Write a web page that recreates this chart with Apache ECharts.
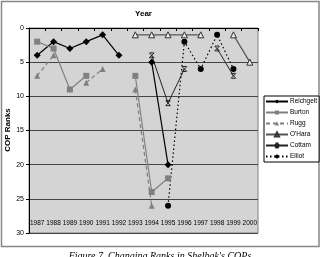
<!DOCTYPE html>
<html>
<head>
<meta charset="utf-8">
<script src="https://cdn.jsdelivr.net/npm/echarts@6/dist/echarts.min.js"></script>
<style>
  html, body { margin: 0; padding: 0; background: #fff; }
  #chart { width: 321px; height: 257px; }
</style>
</head>
<body>
<div id="chart"></div>
<script>
const years = ['1987', '1988', '1989', '1990', '1991', '1992', '1993', '1994', '1995', '1996', '1997', '1998', '1999', '2000'];
const yTicks = [0, 5, 10, 15, 20, 25, 30];

const reichgelt = [4, 2, 3, 2, 1, 4, null, 5, 20, null, null, null, null, null];
const burton    = [2, 3, 9, 7, null, null, 7, 24, 22, null, null, null, null, null];
const rugg      = [7, 4, null, 8, 6, null, 9, 26, null, null, null, null, null, null];
const ohara     = [null, null, null, null, null, null, 1, 1, 1, 1, 1, null, 1, 5];
const cottam    = [null, null, null, null, null, null, null, 4, 11, 6, null, 3, 7, null];
const elliot    = [null, null, null, null, null, null, null, null, 26, 2, 6, 1, 6, null];

const font = 'Liberation Sans';
const cross = 'path://M0,0L10,10M10,0L0,10M1,0L9,0M1,10L9,10';

const chart = echarts.init(document.getElementById('chart'));
chart.setOption({
  animation: false,
  textStyle: { fontFamily: font },
  grid: {
    left: 29, right: 63, top: 28, bottom: 24,
    show: true, backgroundColor: '#d4d4d4', borderColor: '#808080', borderWidth: 1
  },
  legend: {
    orient: 'vertical',
    left: 264, top: 96,
    backgroundColor: '#fff',
    borderColor: '#000', borderWidth: 1,
    padding: [2, 2, 2, 1],
    itemGap: 4,
    itemWidth: 22, itemHeight: 5,
    textStyle: { fontSize: 6.5, fontFamily: font, color: '#000', padding: [0, 0, 0, -3] },
    data: ['Reichgelt', 'Burton', 'Rugg', "O'Hara", 'Cottam', 'Elliot']
  },
  xAxis: {
    type: 'category',
    data: years,
    boundaryGap: true,
    axisLine: { show: true, lineStyle: { color: '#000', width: 1 } },
    axisTick: { show: true, length: 3, lineStyle: { color: '#000' } },
    axisLabel: { inside: true, margin: 6, interval: 0, fontSize: 6.5, color: '#000', fontFamily: font },
    splitLine: { show: false }
  },
  yAxis: {
    type: 'value',
    inverse: true,
    min: yTicks[0], max: yTicks[yTicks.length - 1], interval: 5,
    axisLine: { show: true, lineStyle: { color: '#000', width: 1 } },
    axisTick: { show: true, length: 3, lineStyle: { color: '#000' } },
    axisLabel: { fontSize: 7, color: '#000', margin: 5, fontFamily: font },
    splitLine: { show: true, lineStyle: { color: '#444', width: 1 } }
  },
  graphic: [
    { type: 'rect', shape: { x: 1.5, y: 1.5, width: 317.5, height: 245 },
      style: { fill: 'none', stroke: '#888', lineWidth: 1.5 }, z: -1 },
    { type: 'text', x: 143.5, y: 10, style: { text: 'Year', font: 'bold 8px ' + font, fill: '#000', textAlign: 'center' } },
    { type: 'text', x: 8, y: 130, rotation: Math.PI / 2,
      style: { text: 'COP Ranks', font: 'bold 8px ' + font, fill: '#000', textAlign: 'center', textVerticalAlign: 'middle' } },
    { type: 'text', x: 160, y: 251,
      style: { text: "Figure 7. Changing Ranks in Shelbak's COPs", font: 'italic 10px "Liberation Serif"', fill: '#000', textAlign: 'center' } }
  ],
  series: [
    { name: 'Reichgelt', type: 'line', data: reichgelt, symbol: 'diamond', symbolSize: 7,
      lineStyle: { color: '#000', width: 1.2 }, itemStyle: { color: '#000' } },
    { name: 'Burton', type: 'line', data: burton, symbol: 'rect', symbolSize: 6,
      lineStyle: { color: '#808080', width: 1.2 }, itemStyle: { color: '#808080' } },
    { name: 'Rugg', type: 'line', data: rugg, symbol: 'triangle', symbolSize: 6,
      lineStyle: { color: '#808080', width: 1.2, type: [4, 3] }, itemStyle: { color: '#808080' } },
    { name: "O'Hara", type: 'line', data: ohara, symbol: 'triangle', symbolSize: 6,
      lineStyle: { color: '#555', width: 1.2 }, itemStyle: { color: '#e8e8e8', borderColor: '#333', borderWidth: 1 } },
    { name: 'Cottam', type: 'line', data: cottam, symbol: cross, symbolSize: 5,
      lineStyle: { color: '#222', width: 1 }, itemStyle: { color: '#222', borderColor: '#222', borderWidth: 1 } },
    { name: 'Elliot', type: 'line', data: elliot, symbol: 'circle', symbolSize: 6,
      lineStyle: { color: '#000', width: 1.2, type: [1.5, 2.5] }, itemStyle: { color: '#000' } }
  ]
});
</script>
</body>
</html>
